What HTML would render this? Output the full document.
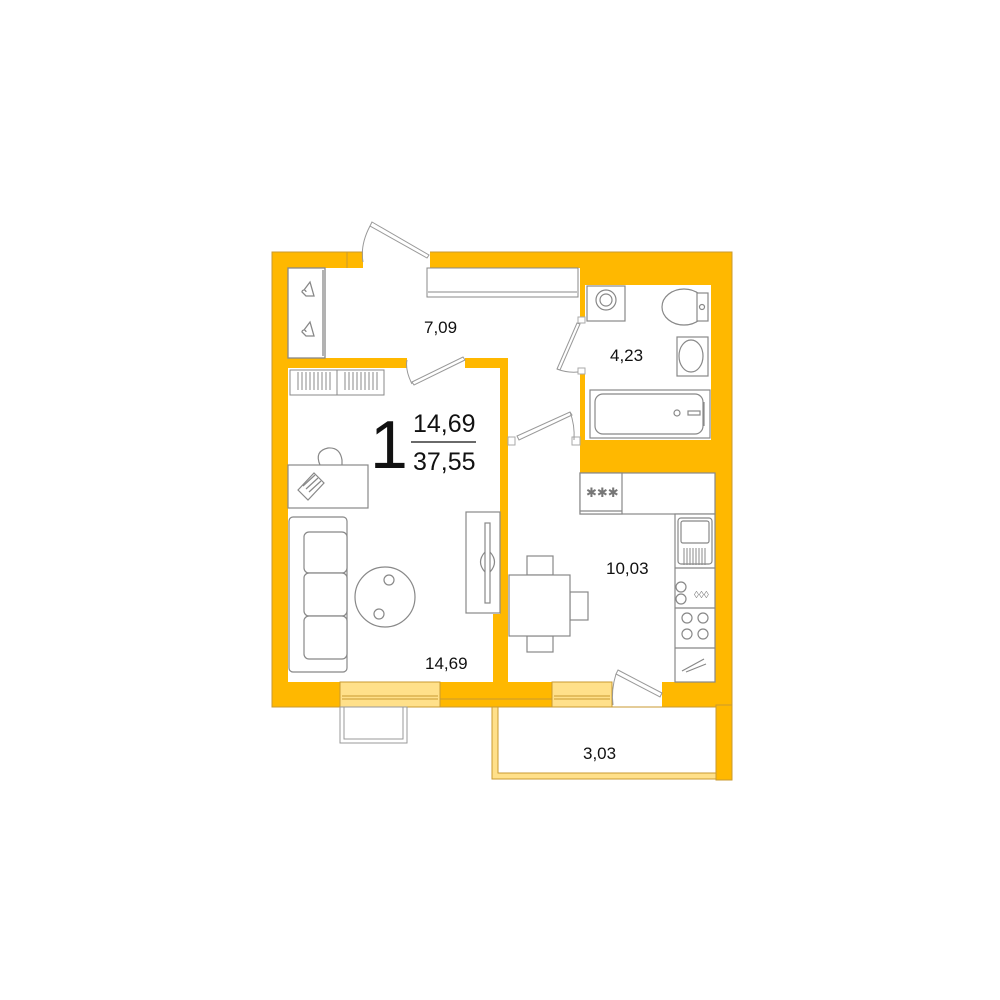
<!DOCTYPE html>
<html><head><meta charset="utf-8"><style>
html,body{margin:0;padding:0;background:#fff;}
svg{display:block}
text{font-family:"Liberation Sans",Arial,sans-serif;fill:#111}
</style></head><body>
<svg width="1000" height="1000" viewBox="0 0 1000 1000" xmlns="http://www.w3.org/2000/svg">
<g stroke="#aaa" stroke-width="1">
<!-- orange shell -->
<rect x="272" y="252" width="460" height="455" fill="#FFB800" stroke="#c99a30"/>
<rect x="716" y="705" width="16" height="75" fill="#FFB800" stroke="#c99a30"/>
</g>
<!-- entrance gap -->
<rect x="363" y="250" width="67" height="20" fill="#fff"/>
<line x1="347" y1="252" x2="347" y2="268" stroke="#c99a30"/>
<g fill="#fff" stroke="none">
<!-- hallway -->
<rect x="288" y="268" width="290" height="90"/>
<rect x="508" y="268" width="72" height="180"/>
<!-- bathroom -->
<rect x="585" y="285" width="126" height="155"/>
<rect x="576" y="320" width="12" height="50"/>
<!-- living -->
<rect x="288" y="368" width="212" height="314"/>
<rect x="407" y="356" width="58" height="14"/>
<!-- kitchen -->
<rect x="508" y="440" width="72" height="242"/>
<rect x="580" y="473" width="135" height="209"/>
<rect x="612" y="680" width="50" height="28"/>
</g>
<rect x="493" y="614" width="8" height="68" fill="#FFB800"/>
<!-- jamb stubs -->
<g fill="#fff" stroke="#aaa" stroke-width="1">
<rect x="508" y="437" width="7" height="8"/>
<rect x="572" y="437" width="8" height="8"/>
<rect x="578" y="317" width="7" height="6"/>
<rect x="578" y="368" width="7" height="6"/>
</g>
<!-- windows -->
<g stroke="#c99a30" stroke-width="1">
<rect x="340" y="682" width="100" height="25" fill="#FFE08A"/>
<rect x="552" y="682" width="60" height="25" fill="#FFE08A"/>
<line x1="342" y1="696" x2="438" y2="696"/><line x1="342" y1="699" x2="438" y2="699"/>
<line x1="554" y1="696" x2="610" y2="696"/><line x1="554" y1="699" x2="610" y2="699"/>
<rect x="440" y="699" width="112" height="8" fill="#FFB800"/>
</g>
<!-- small balcony -->
<rect x="340" y="707" width="67" height="36" fill="#fff" stroke="#999"/>
<rect x="344" y="707" width="59" height="32" fill="none" stroke="#999"/>
<!-- big balcony -->
<rect x="492" y="707" width="224" height="72" fill="#FFE08A" stroke="#c99a30"/>
<rect x="498" y="707" width="218" height="66" fill="#fff" stroke="#c99a30"/>
<!-- doors -->
<g stroke="#999" fill="#fff" stroke-width="1">
<polygon points="372,222 429,255 427,258 370,226"/>
<polygon points="465,360 414,385 412,382 463,357"/>
<polygon points="580,324 560,370 557,369 577,323"/>
<polygon points="572,415 519,440 517,436 570,412"/>
<polygon points="618,670 662,693 660,697 616,674"/>
</g>
<g stroke="#999" fill="none" stroke-dasharray="0">
<path d="M370,226 Q360,245 363,262"/>
<path d="M412,384 Q405,370 407,360"/>
<path d="M557,369 Q567,373 578,372"/>
<path d="M570,412 Q575,425 574,440"/>
<path d="M616,674 Q611,690 613,705"/>
</g>
<!-- top closet -->
<rect x="427" y="268" width="151" height="29" fill="#fff" stroke="#888"/>
<line x1="428" y1="292" x2="577" y2="292" stroke="#888"/>
<!-- wardrobe -->
<g stroke="#888" fill="none" stroke-width="1.3">
<rect x="288" y="268" width="37" height="90"/>
<line x1="323" y1="270" x2="323" y2="356"/>
<path d="M304,290 l6,-8 l4,14 l-8,0 l-4,-4 a2,2 0 0 1 4,0"/>
<path d="M304,330 l6,-8 l4,14 l-8,0 l-4,-4 a2,2 0 0 1 4,0"/>
</g>
<!-- shelf -->
<g stroke="#888" fill="none">
<rect x="290" y="370" width="94" height="25"/><line x1="337" y1="370" x2="337" y2="395"/>
<path d="M298,372 v18 M302,372 v18 M306,372 v18 M310,372 v18 M314,372 v18 M318,372 v18 M322,372 v18 M326,372 v18 M330,372 v18 M345,372 v18 M349,372 v18 M353,372 v18 M357,372 v18 M361,372 v18 M365,372 v18 M369,372 v18 M373,372 v18 M377,372 v18"/>
</g>
<!-- desk -->
<g stroke="#888" fill="none" stroke-width="1.2">
<path d="M320,465 q-6,-14 8,-17 q12,-1 14,12 l0,5"/>
<rect x="288" y="465" width="80" height="43" fill="#fff"/>
<polygon points="298,490 314,473 324,483 308,500" fill="#fff"/>
<path d="M303,486 l12,-11 M306,489 l12,-11 M309,492 l12,-11"/>
</g>
<!-- sofa -->
<g stroke="#888" fill="#fff" stroke-width="1.2">
<rect x="289" y="517" width="58" height="155" rx="4"/>
<rect x="304" y="532" width="43" height="41" rx="5"/>
<rect x="304" y="573" width="43" height="43" rx="5"/>
<rect x="304" y="616" width="43" height="43" rx="5"/>
<circle cx="385" cy="597" r="30"/>
<circle cx="389" cy="580" r="5"/><circle cx="379" cy="614" r="5"/>
</g>
<!-- TV -->
<g stroke="#888" fill="#fff" stroke-width="1.2">
<rect x="466" y="512" width="34" height="101"/>
<rect x="485" y="523" width="5" height="80"/>
<path d="M485,552 q-9,10 0,20 M490,552 q9,10 0,20" fill="none"/>
</g>
<!-- kitchen -->
<g stroke="#888" fill="#fff" stroke-width="1.2">
<rect x="580" y="473" width="135" height="41"/>
<rect x="580" y="473" width="42" height="41"/>
<line x1="580" y1="511" x2="622" y2="511"/>
<rect x="675" y="514" width="40" height="168"/>
<line x1="675" y1="568" x2="715" y2="568"/>
<line x1="675" y1="608" x2="715" y2="608"/>
<line x1="675" y1="648" x2="715" y2="648"/>
<rect x="678" y="518" width="34" height="46" rx="3"/>
<rect x="681" y="521" width="28" height="22" rx="2"/>
<circle cx="681" cy="599" r="5" fill="none"/><circle cx="681" cy="587" r="5" fill="none"/>
<circle cx="687" cy="618" r="5"/><circle cx="703" cy="618" r="5"/>
<circle cx="687" cy="634" r="5"/><circle cx="703" cy="634" r="5"/>
<path d="M682,671 l22,-12 M686,672 l20,-8" fill="none"/>
<!-- table -->
<rect x="527" y="556" width="26" height="19"/>
<rect x="527" y="636" width="26" height="16"/>
<rect x="570" y="592" width="18" height="28"/>
<rect x="509" y="575" width="61" height="61"/>
</g>
<g stroke="#888" stroke-width="1">
<path d="M684,548 v17 M687,548 v17 M690,548 v17 M693,548 v17 M696,548 v17 M699,548 v17 M702,548 v17 M705,548 v17"/>
</g>
<text x="586" y="497" font-size="13" fill="#777" style="fill:#777">✱✱✱</text>
<text x="694" y="598" font-size="10" style="fill:#888">◊◊◊</text>
<!-- bathroom -->
<g stroke="#888" fill="#fff" stroke-width="1.2">
<rect x="587" y="286" width="38" height="35"/>
<circle cx="606" cy="300" r="10"/><circle cx="606" cy="300" r="6"/>
<ellipse cx="684" cy="307" rx="22" ry="18"/>
<rect x="697" y="293" width="11" height="28"/>
<circle cx="702" cy="307" r="2.5"/>
<rect x="677" y="337" width="31" height="39"/>
<ellipse cx="691" cy="356" rx="12" ry="16"/>
<rect x="590" y="390" width="120" height="48"/>
<rect x="595" y="394" width="108" height="40" rx="8"/>
<circle cx="677" cy="413" r="3"/>
<rect x="688" y="411" width="12" height="4"/>
<line x1="704" y1="402" x2="704" y2="426"/>
</g>
<!-- labels -->
<text x="424" y="333" font-size="17">7,09</text>
<text x="610" y="361" font-size="17">4,23</text>
<text x="370" y="468" font-size="68">1</text>
<text x="413" y="432" font-size="25">14,69</text>
<line x1="411" y1="442" x2="476" y2="442" stroke="#111" stroke-width="1.3"/>
<text x="413" y="470" font-size="25">37,55</text>
<text x="425" y="669" font-size="17">14,69</text>
<text x="606" y="574" font-size="17">10,03</text>
<text x="583" y="759" font-size="17">3,03</text>
</svg>
</body></html>
